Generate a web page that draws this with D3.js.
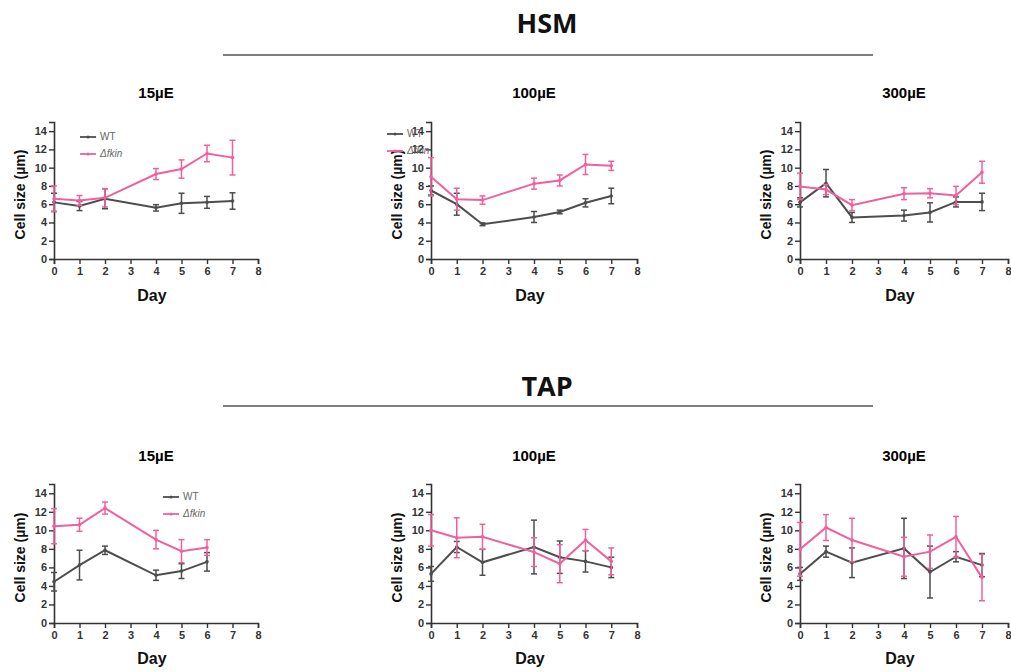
<!DOCTYPE html>
<html>
<head>
<meta charset="utf-8">
<script src="https://cdn.jsdelivr.net/npm/d3@7"></script>
<style>
  body { margin: 0; background: #fff; }
  svg { display: block; }
  .tick text { font-family: "Liberation Sans", Arial, sans-serif; font-weight: bold; font-size: 11px; fill: #333; }
</style>
</head>
<body>
<svg id="chart" width="1011" height="672"></svg>
<script>
// ---- data ----
var groups = ["HSM", "TAP"];
var lights = ["15\u00b5E", "100\u00b5E", "300\u00b5E"];
var seriesNames = ["WT", "\u0394fkin"];
var xTicks = [0, 1, 2, 3, 4, 5, 6, 7, 8];
var yTicks = [0, 2, 4, 6, 8, 10, 12, 14];

var days = [0, 1, 2, 4, 5, 6, 7];
var daysTap15 = [0, 1, 2, 4, 5, 6];

var hsm15Wt = [6.2, 5.8, 6.6, 5.6, 6.1, 6.2, 6.35];
var hsm15WtErr = [1.0, 0.5, 1.1, 0.35, 1.1, 0.65, 0.9];
var hsm15Fk = [6.6, 6.4, 6.7, 9.3, 9.85, 11.55, 11.1];
var hsm15FkErr = [1.4, 0.55, 1.0, 0.6, 1.0, 0.9, 1.9];

var hsm100Wt = [7.5, 6.0, 3.8, 4.6, 5.15, 6.15, 6.9];
var hsm100WtErr = [0.5, 1.2, 0.15, 0.6, 0.2, 0.45, 0.85];
var hsm100Fk = [9.0, 6.55, 6.45, 8.25, 8.6, 10.35, 10.2];
var hsm100FkErr = [2.1, 1.2, 0.45, 0.6, 0.6, 1.1, 0.5];

var hsm300Wt = [6.2, 8.3, 4.55, 4.75, 5.1, 6.25, 6.25];
var hsm300WtErr = [0.5, 1.5, 0.55, 0.6, 1.05, 0.55, 0.95];
var hsm300Fk = [7.95, 7.6, 5.9, 7.15, 7.2, 6.95, 9.5];
var hsm300FkErr = [1.45, 0.55, 0.6, 0.65, 0.5, 1.0, 1.2];

var tap15Wt = [4.45, 6.25, 7.85, 5.15, 5.6, 6.6];
var tap15WtErr = [1.0, 1.6, 0.45, 0.55, 0.8, 1.0];
var tap15Fk = [10.45, 10.6, 12.4, 9.0, 7.75, 8.15];
var tap15FkErr = [1.9, 0.7, 0.65, 1.0, 1.25, 0.85];

var tap100Wt = [5.3, 8.2, 6.55, 8.2, 7.1, 6.65, 6.0];
var tap100WtErr = [0.8, 0.6, 1.4, 2.9, 1.75, 1.15, 1.1];
var tap100Fk = [10.0, 9.2, 9.3, 7.65, 6.4, 8.95, 6.65];
var tap100FkErr = [1.7, 2.15, 1.35, 1.55, 2.05, 1.15, 1.45];

var tap300Wt = [5.3, 7.7, 6.5, 8.05, 5.5, 7.15, 6.25];
var tap300WtErr = [0.7, 0.6, 1.6, 3.25, 2.8, 0.55, 1.25];
var tap300Fk = [7.95, 10.3, 8.95, 7.15, 7.7, 9.3, 4.9];
var tap300FkErr = [2.9, 1.4, 2.35, 2.1, 1.8, 2.2, 2.5];

// ---- layout ----
var colors = ["#4d4d4d", "#f0609e"];
var cols = [[54, 258], [431, 637], [800, 1008]];
var rows = [{y0: 259, y15: 122, header: 22, rule: 55, title: 94, dayY: 301},
            {y0: 623, y15: 484, header: 385, rule: 406, title: 457, dayY: 664}];

var panels = [
  {row: 0, col: 0, x: days, s: [[hsm15Wt, hsm15WtErr], [hsm15Fk, hsm15FkErr]], legend: [80, 137]},
  {row: 0, col: 1, x: days, s: [[hsm100Wt, hsm100WtErr], [hsm100Fk, hsm100FkErr]], legend: [387, 134]},
  {row: 0, col: 2, x: days, s: [[hsm300Wt, hsm300WtErr], [hsm300Fk, hsm300FkErr]]},
  {row: 1, col: 0, x: daysTap15, s: [[tap15Wt, tap15WtErr], [tap15Fk, tap15FkErr]], legend: [163, 497]},
  {row: 1, col: 1, x: days, s: [[tap100Wt, tap100WtErr], [tap100Fk, tap100FkErr]]},
  {row: 1, col: 2, x: days, s: [[tap300Wt, tap300WtErr], [tap300Fk, tap300FkErr]]}
];

var svg = d3.select("#chart");
var axisColor = "#333";

// section headers
rows.forEach(function(r, i) {
  svg.append("text")
    .attr("x", 547).attr("y", r.header)
    .attr("text-anchor", "middle")
    .attr("dominant-baseline", "central")
    .attr("font-family", "'Open Sans', sans-serif")
    .attr("font-weight", "bold")
    .attr("font-size", 27)
    .attr("fill", "#111")
    .text(groups[i]);
  svg.append("line")
    .attr("x1", 223).attr("x2", 873)
    .attr("y1", r.rule).attr("y2", r.rule)
    .attr("stroke", "#555").attr("stroke-width", 1.3);
});

panels.forEach(function(p) {
  var r = rows[p.row], c = cols[p.col];
  var x = d3.scaleLinear().domain([0, 8]).range(c);
  var y = d3.scaleLinear().domain([0, 15]).range([r.y0, r.y15]);
  var g = svg.append("g");
  var mid = (c[0] + c[1]) / 2;

  g.append("text")
    .attr("x", mid).attr("y", r.title)
    .attr("text-anchor", "middle").attr("dominant-baseline", "middle")
    .attr("font-family", "'Liberation Sans', Arial, sans-serif")
    .attr("font-weight", "bold").attr("font-size", 15)
    .text(lights[p.col]);

  var xAxis = g.append("g")
    .attr("transform", "translate(0," + r.y0 + ")")
    .call(d3.axisBottom(x).tickValues(xTicks).tickSize(5).tickPadding(3));
  var yAxis = g.append("g")
    .attr("transform", "translate(" + c[0] + ",0)")
    .call(d3.axisLeft(y).tickValues(yTicks).tickSize(5).tickPadding(2));
  [xAxis, yAxis].forEach(function(a) {
    a.select(".domain").attr("stroke", axisColor).attr("stroke-width", 1.6);
    a.selectAll(".tick line").attr("stroke", axisColor).attr("stroke-width", 1.4);
  });

  g.append("text")
    .attr("transform", "translate(" + (c[0] - 33) + "," + ((r.y0 + r.y15) / 2 + 4) + ") rotate(-90)")
    .attr("text-anchor", "middle").attr("dominant-baseline", "middle")
    .attr("font-family", "'Liberation Sans', Arial, sans-serif")
    .attr("font-weight", "bold").attr("font-size", 14)
    .attr("fill", "#111")
    .text("Cell size (\u00b5m)");

  g.append("text")
    .attr("x", mid - 4).attr("y", r.dayY)
    .attr("text-anchor", "middle")
    .attr("font-family", "'Liberation Sans', Arial, sans-serif")
    .attr("font-weight", "bold").attr("font-size", 16)
    .attr("fill", "#111")
    .text("Day");

  var line = d3.line()
    .x(function(d) { return x(d[0]); })
    .y(function(d) { return y(d[1]); });

  p.s.forEach(function(s, si) {
    var pts = p.x.map(function(d, i) { return [d, s[0][i], s[1][i]]; });
    var col = colors[si];
    var sg = g.append("g");
    sg.append("path")
      .datum(pts)
      .attr("d", line)
      .attr("fill", "none")
      .attr("stroke", col)
      .attr("stroke-width", 2);
    var eb = sg.selectAll(".eb").data(pts).enter().append("g");
    eb.append("line")
      .attr("x1", function(d) { return x(d[0]); })
      .attr("x2", function(d) { return x(d[0]); })
      .attr("y1", function(d) { return y(d[1] - d[2]); })
      .attr("y2", function(d) { return y(d[1] + d[2]); })
      .attr("stroke", col).attr("stroke-width", 1.5);
    [-1, 1].forEach(function(sign) {
      eb.append("line")
        .attr("x1", function(d) { return x(d[0]) - 3; })
        .attr("x2", function(d) { return x(d[0]) + 3; })
        .attr("y1", function(d) { return y(d[1] + sign * d[2]); })
        .attr("y2", function(d) { return y(d[1] + sign * d[2]); })
        .attr("stroke", col).attr("stroke-width", 1.5);
    });
    eb.append("circle")
      .attr("cx", function(d) { return x(d[0]); })
      .attr("cy", function(d) { return y(d[1]); })
      .attr("r", 1.8)
      .attr("fill", col);
  });

  if (p.legend) {
    var lx = p.legend[0], ly = p.legend[1];
    var lg = g.append("g");
    seriesNames.forEach(function(n, i) {
      var yy = ly + i * 17;
      lg.append("line")
        .attr("x1", lx).attr("x2", lx + 16)
        .attr("y1", yy).attr("y2", yy)
        .attr("stroke", colors[i]).attr("stroke-width", 1.8);
      lg.append("circle").attr("cx", lx + 8).attr("cy", yy).attr("r", 1.5).attr("fill", colors[i]);
      lg.append("text")
        .attr("x", lx + 20).attr("y", yy)
        .attr("dominant-baseline", "middle")
        .attr("font-family", "'Liberation Sans', Arial, sans-serif")
        .attr("font-size", 10)
        .attr("font-style", i === 1 ? "italic" : "normal")
        .attr("fill", "#666")
        .text(n);
    });
  }
});
</script>
</body>
</html>
